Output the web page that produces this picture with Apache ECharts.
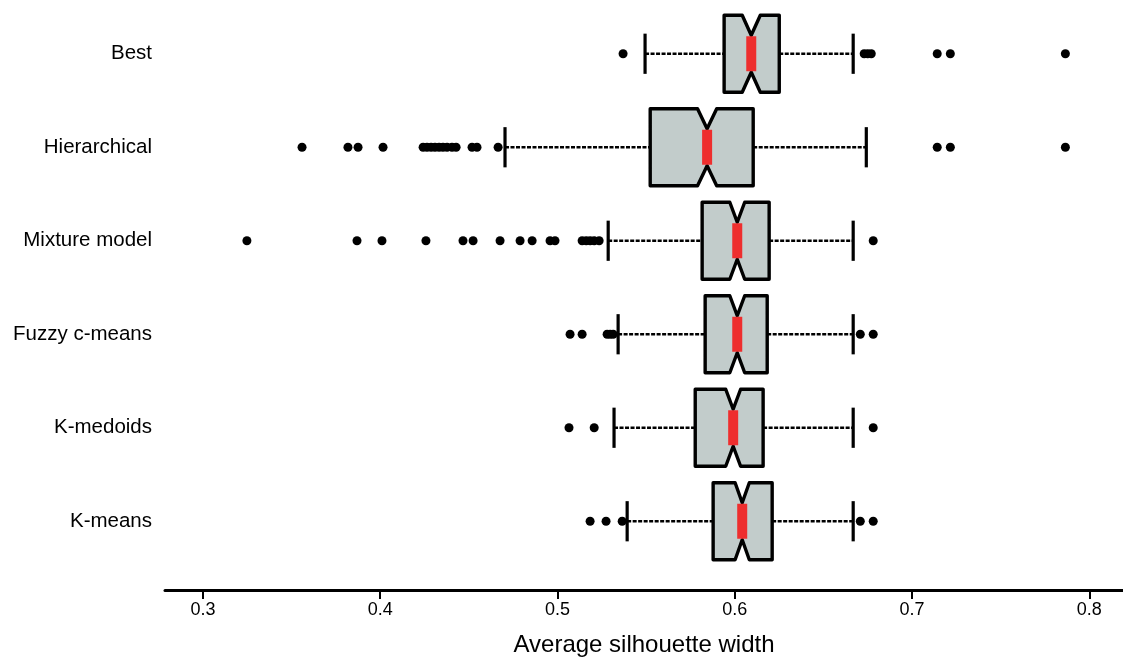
<!DOCTYPE html>
<html>
<head>
<meta charset="utf-8">
<script src="https://cdn.jsdelivr.net/npm/echarts@6/dist/echarts.min.js"></script>
<style>
  html, body { margin: 0; padding: 0; background: #fff; }
  #chart { width: 1123px; height: 658px; }
</style>
</head>
<body>
<div id="chart"></div>
<script>
// Clustering methods, top to bottom
const categories = ['Best', 'Hierarchical', 'Mixture model', 'Fuzzy c-means', 'K-medoids', 'K-means'];

// Five-number summaries of the average silhouette width
const lowerWhisker = [0.5494, 0.4704, 0.5286, 0.5342, 0.5319, 0.5393];
const q1           = [0.5940, 0.5523, 0.5816, 0.5833, 0.5777, 0.5878];
const median       = [0.6093, 0.5844, 0.6014, 0.6014, 0.5991, 0.6042];
const q3           = [0.6251, 0.6104, 0.6194, 0.6183, 0.6160, 0.6211];
const upperWhisker = [0.6668, 0.6742, 0.6668, 0.6668, 0.6668, 0.6668];
// Half-width of the median notch (confidence interval)
const notchHalf    = [0.0051, 0.0054, 0.0042, 0.0042, 0.0042, 0.0040];

// Outlying runs per method
const outliersBest = [0.5370, 0.6730, 0.6750, 0.6770, 0.7142, 0.7216, 0.7865];
const outliersHierarchical = [0.3559, 0.3818, 0.3875, 0.4016, 0.4242, 0.4264, 0.4287, 0.4309,
  0.4332, 0.4354, 0.4377, 0.4405, 0.4428, 0.4518, 0.4546, 0.4665, 0.7142, 0.7216, 0.7865];
const outliersMixture = [0.3248, 0.3869, 0.4010, 0.4258, 0.4467, 0.4524, 0.4676, 0.4789,
  0.4857, 0.4958, 0.4986, 0.5139, 0.5162, 0.5184, 0.5207, 0.5235, 0.6781];
const outliersFuzzy = [0.5071, 0.5139, 0.5280, 0.5297, 0.5314, 0.6708, 0.6781];
const outliersMedoids = [0.5065, 0.5207, 0.6781];
const outliersKmeans = [0.5184, 0.5274, 0.5365, 0.6708, 0.6781];

// Axis tick positions
const tickValues = [0.3, 0.4, 0.5, 0.6, 0.7, 0.8];

const outlierGroups = [outliersBest, outliersHierarchical, outliersMixture,
  outliersFuzzy, outliersMedoids, outliersKmeans];

const boxData = categories.map((c, i) =>
  [i, lowerWhisker[i], q1[i], median[i], q3[i], upperWhisker[i], notchHalf[i]]);

const outlierData = [];
outlierGroups.forEach((g, i) => g.forEach(v => outlierData.push([v, i])));

const FONT = 'Liberation Sans, Arial, Helvetica, sans-serif';
const BOX_FILL = '#c2cccb';
const MEDIAN_RED = '#ee2e2e';

function renderBox(params, api) {
  const i = api.value(0);
  const lo = api.value(1), a = api.value(2), m = api.value(3), b = api.value(4), hi = api.value(5), n = api.value(6);
  const X = v => api.coord([v, i])[0];
  const yc = api.coord([0.6, i])[1];
  const band = api.size([0, 1])[1];
  const hh = band * 0.412;      // box half-height
  const capH = band * 0.215;    // whisker cap half-height
  const waist = hh * 0.48;      // half-height at the notch point
  const top = yc - hh, bot = yc + hh;

  const whiskerStyle = { stroke: '#000', lineWidth: 2.6, lineDash: [4, 1.5] };
  const capStyle = { stroke: '#000', lineWidth: 3.2 };

  const pts = [
    [X(a), top], [X(m - n), top], [X(m), yc - waist], [X(m + n), top], [X(b), top],
    [X(b), bot], [X(m + n), bot], [X(m), yc + waist], [X(m - n), bot], [X(a), bot]
  ];

  return {
    type: 'group',
    children: [
      { type: 'line', shape: { x1: X(lo), y1: yc, x2: X(a), y2: yc }, style: whiskerStyle },
      { type: 'line', shape: { x1: X(b), y1: yc, x2: X(hi), y2: yc }, style: whiskerStyle },
      { type: 'line', shape: { x1: X(lo), y1: yc - capH, x2: X(lo), y2: yc + capH }, style: capStyle },
      { type: 'line', shape: { x1: X(hi), y1: yc - capH, x2: X(hi), y2: yc + capH }, style: capStyle },
      { type: 'polygon', shape: { points: pts },
        style: { fill: BOX_FILL, stroke: '#000', lineWidth: 3.4, lineJoin: 'round' } },
      { type: 'rect', shape: { x: X(m) - 5, y: yc - waist + 1, width: 10, height: 2 * waist - 2 },
        style: { fill: MEDIAN_RED } }
    ]
  };
}

const chart = echarts.init(document.getElementById('chart'), null, { renderer: 'canvas' });
chart.setOption({
  animation: false,
  backgroundColor: '#ffffff',
  grid: { left: 165, right: 0, top: 7, bottom: 90, containLabel: false, outerBoundsMode: 'none' },
  xAxis: {
    type: 'value',
    min: 0.2786,
    max: 0.819,
    offset: 22,
    name: 'Average silhouette width',
    nameLocation: 'middle',
    nameGap: 43,
    nameTextStyle: { fontFamily: FONT, fontSize: 24, color: '#000' },
    axisLine: { show: true, onZero: false, lineStyle: { color: '#000', width: 3 } },
    axisTick: { show: true, customValues: tickValues, length: 9, lineStyle: { color: '#000', width: 2 } },
    axisLabel: { customValues: tickValues, fontFamily: FONT, fontSize: 18, color: '#000', margin: 11,
      formatter: v => v.toFixed(1) },
    splitLine: { show: false }
  },
  yAxis: {
    type: 'category',
    data: categories,
    inverse: true,
    axisLine: { show: false },
    axisTick: { show: false },
    axisLabel: { fontFamily: FONT, fontSize: 20.5, color: '#000', margin: 13 },
    splitLine: { show: false }
  },
  series: [
    {
      type: 'custom',
      renderItem: renderBox,
      data: boxData,
      encode: { x: [1, 2, 3, 4, 5], y: 0 },
      clip: false,
      z: 2
    },
    {
      type: 'scatter',
      data: outlierData,
      symbol: 'circle',
      symbolSize: 9,
      itemStyle: { color: '#000', opacity: 1 },
      z: 3
    }
  ]
});
</script>
</body>
</html>
